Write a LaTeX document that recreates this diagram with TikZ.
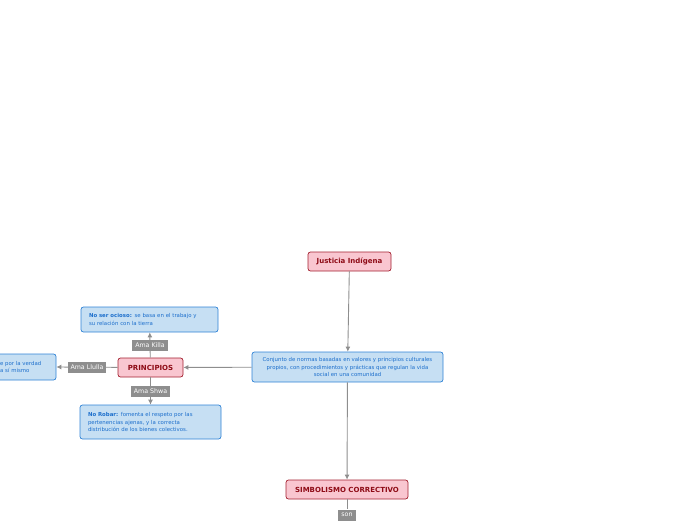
\documentclass[tikz,border=0pt]{standalone}
\usepackage{fontspec}
\setmainfont{DejaVu Sans}
\usetikzlibrary{arrows.meta,positioning}
\definecolor{rootpink}{HTML}{F9C6D0}
\definecolor{rootred}{HTML}{A3202F}
\definecolor{roottext}{HTML}{8E0B16}
\definecolor{ideablue}{HTML}{C6DFF3}
\definecolor{ideaedge}{HTML}{2F82D6}
\definecolor{ideatext}{HTML}{1D6FCC}
\definecolor{linkgray}{HTML}{8E8E8E}

\begin{document}
\begin{tikzpicture}[
  x=1pt, y=-1pt,
  >=Latex,
  topic/.style={draw=rootred, fill=rootpink, rounded corners=2.5pt, line width=0.7pt,
    text=roottext, font=\fontsize{7}{8}\selectfont\bfseries,
    minimum height=19pt, inner xsep=7pt},
  idea/.style={draw=ideaedge, fill=ideablue, rounded corners=2.5pt, line width=0.7pt,
    text=ideatext, font=\fontsize{5.4}{7.4}\selectfont, inner xsep=8pt, inner ysep=3pt},
  tag/.style={fill=linkgray, text=white, font=\fontsize{6.3}{7}\selectfont,
    inner xsep=3pt, inner ysep=2pt, minimum height=11pt},
  arrow/.style={-{Latex[length=5pt,width=5pt]}, line width=0.9pt, draw=linkgray}
]
\useasboundingbox (0,0) rectangle (696,520);

\node[topic, minimum width=83pt] (justicia) at (349.5,261.5) {Justicia Indígena};
\node[idea, align=center, minimum width=191pt, minimum height=30pt] (conjunto) at (347.5,367)
  {Conjunto de normas basadas en valores y principios culturales\\
   propios, con procedimientos y prácticas que regulan la vida\\
   social en una comunidad};
\node[topic, minimum width=65pt] (principios) at (150.5,367.5) {PRINCIPIOS};
\node[idea, align=left, text width=121pt, minimum height=25pt] (ocioso) at (149.5,319.5)
  {\textbf{No ser ocioso:} se basa en el trabajo y\\su relación con la tierra};
\node[idea, align=left, text width=125pt, minimum height=34pt] (robar) at (150.5,422)
  {\textbf{No Robar:} fomenta el respeto por las\\pertenencias ajenas, y la correcta\\distribución de los bienes colectivos.};
\node[idea, minimum width=136pt, minimum height=26pt] (mentir) at (-12,367) {};
\node[text=ideatext, font=\fontsize{5.4}{7.4}\selectfont, align=left, anchor=west,
  inner sep=0pt] (mentirtxt) at (0,367) {e por la verdad\\a sí mismo};
\node[topic, minimum width=122pt] (simbolismo) at (347,489.5) {SIMBOLISMO CORRECTIVO};
\node[tag] (son) at (347,515) {son};

\draw[arrow] (justicia) -- (conjunto);
\draw[arrow] (conjunto) -- (principios);
\draw[arrow] (conjunto) -- (simbolismo);
\draw[arrow] (principios) -- node[tag] {Ama Killa} (ocioso);
\draw[arrow] (principios) -- node[tag] {Ama Shwa} (robar);
\draw[arrow] (principios) -- node[tag] {Ama Llulla} (mentir.east);
\draw[line width=0.9pt, draw=linkgray] (simbolismo) -- (son);

\end{tikzpicture}
\end{document}
